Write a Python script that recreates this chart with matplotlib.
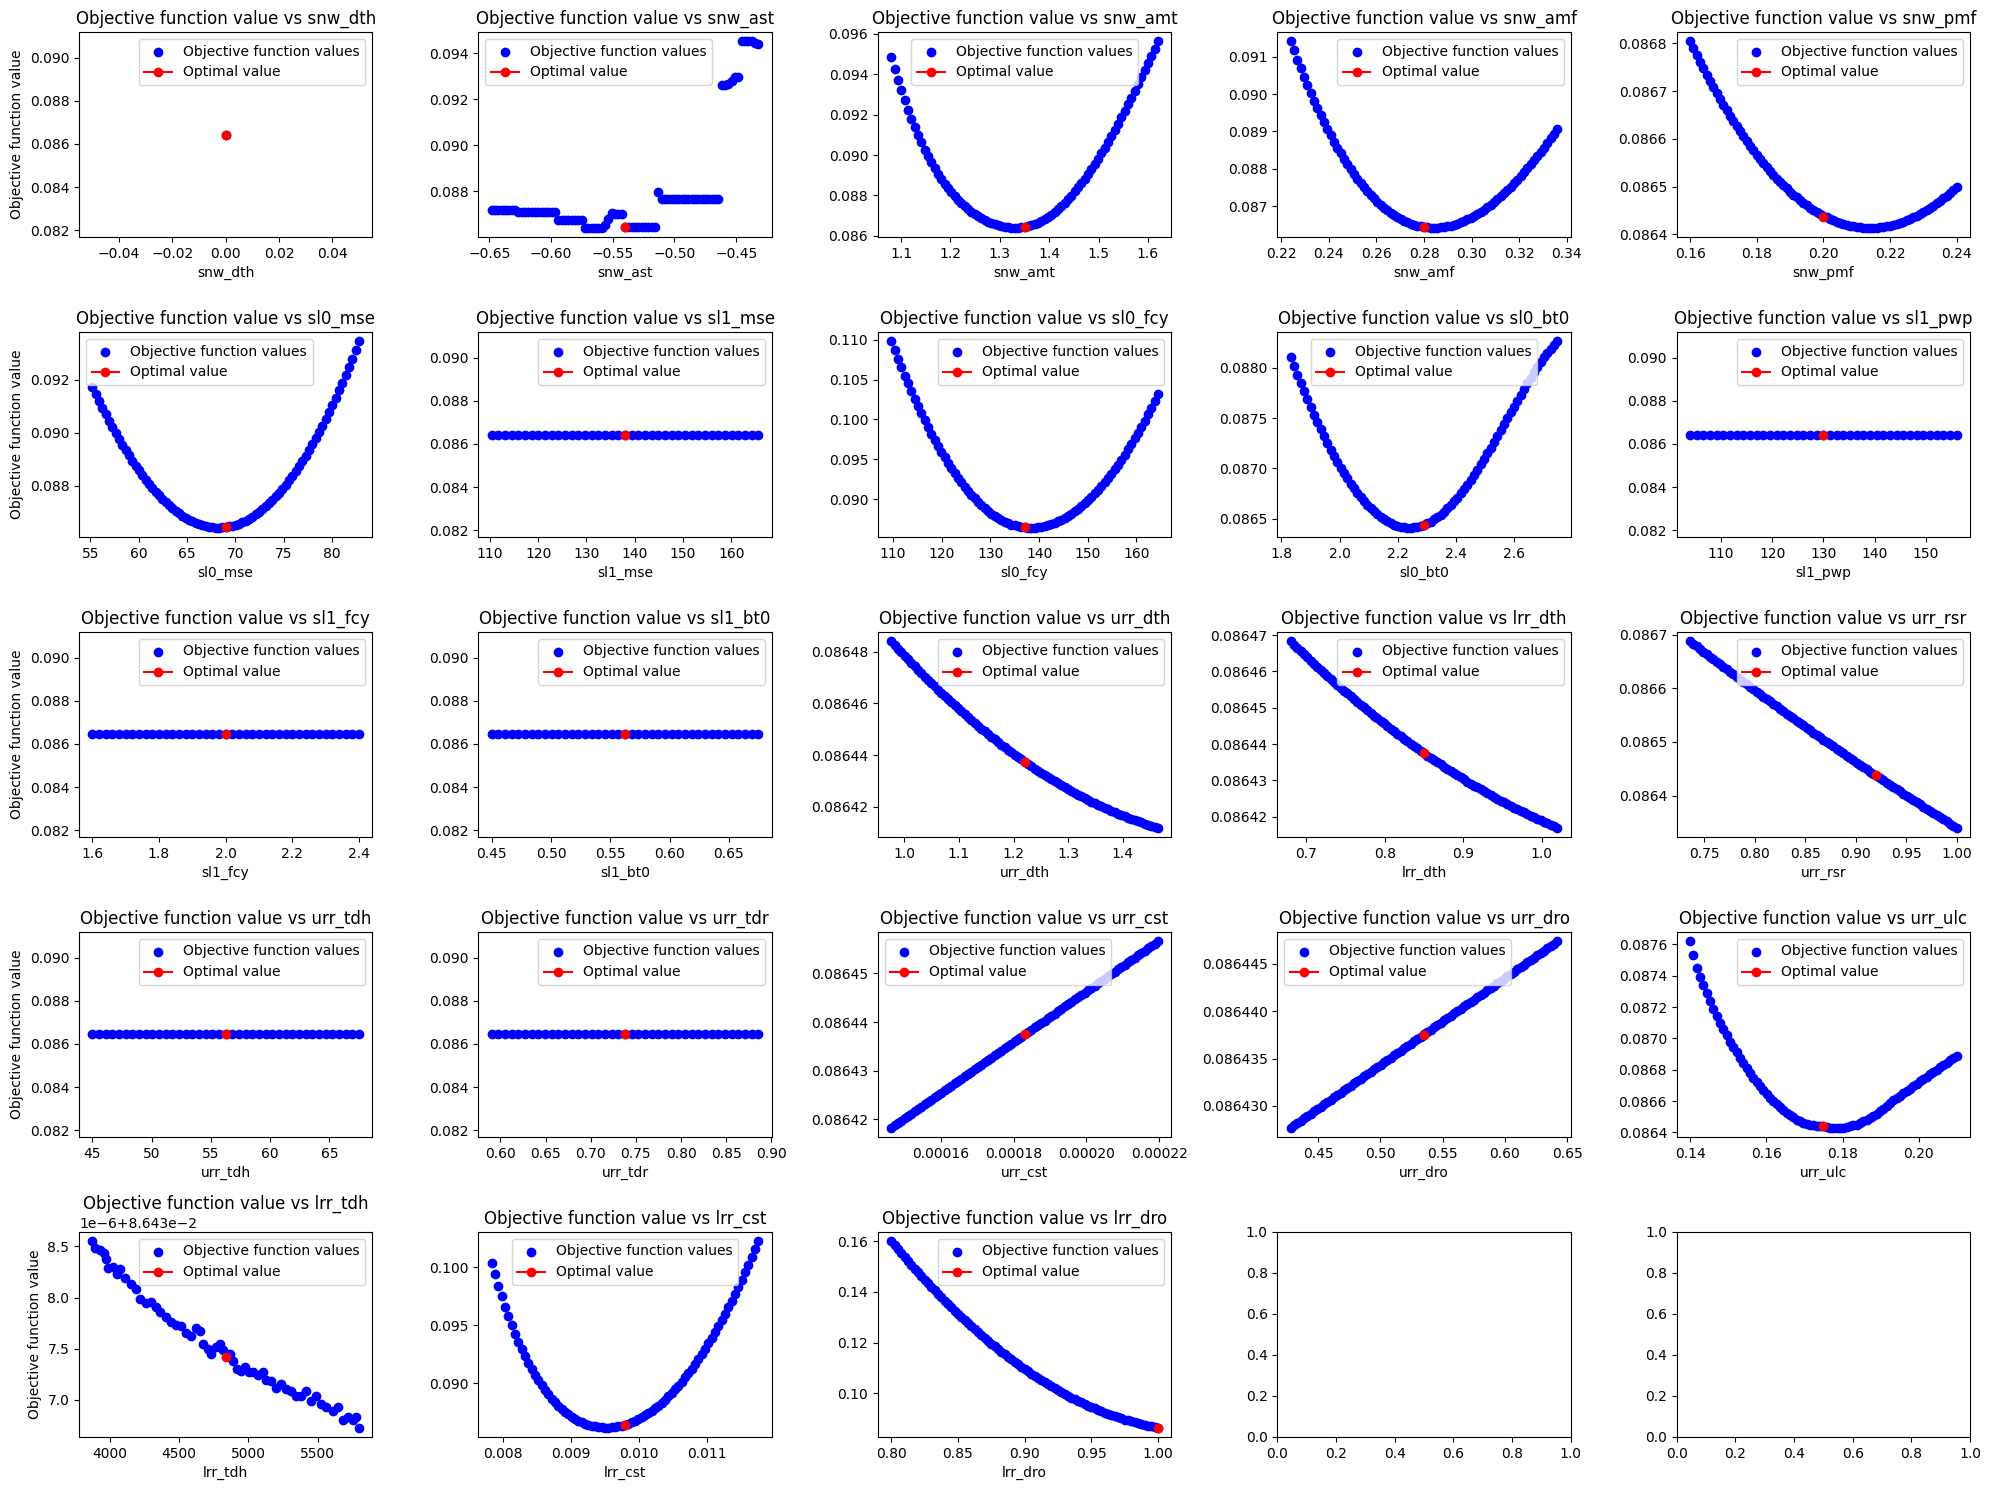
import matplotlib
matplotlib.use("Agg")
import matplotlib.pyplot as plt

OPT_VALUE = 0.0864375

# parameter sweeps, values
snw_dth_x = [0.0]
snw_dth_y = [0.0864375]

snw_ast_x = [-0.6480, -0.6453, -0.6426, -0.6399, -0.6372, -0.6345, -0.6318, -0.6291, -0.6264, -0.6237,
             -0.6210, -0.6183, -0.6156, -0.6129, -0.6102, -0.6075, -0.6048, -0.6021, -0.5994, -0.5967,
             -0.5940, -0.5913, -0.5886, -0.5859, -0.5832, -0.5805, -0.5778, -0.5751, -0.5724, -0.5697,
             -0.5670, -0.5643, -0.5616, -0.5589, -0.5562, -0.5535, -0.5508, -0.5481, -0.5454, -0.5427,
             -0.5400, -0.5373, -0.5346, -0.5319, -0.5292, -0.5265, -0.5238, -0.5211, -0.5184, -0.5157,
             -0.5130, -0.5103, -0.5076, -0.5049, -0.5022, -0.4995, -0.4968, -0.4941, -0.4914, -0.4887,
             -0.4860, -0.4833, -0.4806, -0.4779, -0.4752, -0.4725, -0.4698, -0.4671, -0.4644, -0.4617,
             -0.4590, -0.4563, -0.4536, -0.4509, -0.4482, -0.4455, -0.4428, -0.4401, -0.4374, -0.4347,
             -0.4320]
snw_ast_y = [0.08721, 0.08721, 0.08721, 0.08721, 0.08721, 0.08721, 0.08721, 0.08721, 0.08711, 0.08711,
             0.08711, 0.08711, 0.08711, 0.08711, 0.08711, 0.08711, 0.08711, 0.08711, 0.08711, 0.08711,
             0.08677, 0.08677, 0.08677, 0.08677, 0.08677, 0.08677, 0.08677, 0.08677, 0.08642, 0.08642,
             0.08642, 0.08642, 0.08642, 0.08642, 0.08655, 0.08680, 0.08706, 0.08701, 0.08701, 0.08701,
             0.0864375, 0.08645, 0.08645, 0.08645, 0.08645, 0.08645, 0.08645, 0.08645, 0.08645, 0.08645,
             0.08797, 0.08765, 0.08765, 0.08765, 0.08765, 0.08765, 0.08765, 0.08765, 0.08765, 0.08765,
             0.08765, 0.08765, 0.08765, 0.08765, 0.08765, 0.08765, 0.08765, 0.08765, 0.08765, 0.09263,
             0.09263, 0.09265, 0.09280, 0.09295, 0.09295, 0.09451, 0.09451, 0.09451, 0.09451, 0.09446,
             0.09441]

snw_amt_x = [1.08000, 1.08675, 1.09350, 1.10025, 1.10700, 1.11375, 1.12050, 1.12725, 1.13400, 1.14075,
             1.14750, 1.15425, 1.16100, 1.16775, 1.17450, 1.18125, 1.18800, 1.19475, 1.20150, 1.20825,
             1.21500, 1.22175, 1.22850, 1.23525, 1.24200, 1.24875, 1.25550, 1.26225, 1.26900, 1.27575,
             1.28250, 1.28925, 1.29600, 1.30275, 1.30950, 1.31625, 1.32300, 1.32975, 1.33650, 1.34325,
             1.35000, 1.35675, 1.36350, 1.37025, 1.37700, 1.38375, 1.39050, 1.39725, 1.40400, 1.41075,
             1.41750, 1.42425, 1.43100, 1.43775, 1.44450, 1.45125, 1.45800, 1.46475, 1.47150, 1.47825,
             1.48500, 1.49175, 1.49850, 1.50525, 1.51200, 1.51875, 1.52550, 1.53225, 1.53900, 1.54575,
             1.55250, 1.55925, 1.56600, 1.57275, 1.57950, 1.58625, 1.59300, 1.59975, 1.60650, 1.61325,
             1.62000]
snw_amt_y = [0.094834, 0.094272, 0.093709, 0.093204, 0.092698, 0.092246, 0.091793, 0.091390, 0.090986, 0.090627,
             0.090267, 0.089950, 0.089632, 0.089352, 0.089071, 0.088825, 0.088579, 0.088365, 0.088151, 0.087965,
             0.087779, 0.087620, 0.087460, 0.087325, 0.087189, 0.087077, 0.086964, 0.086872, 0.086779, 0.086706,
             0.086633, 0.086579, 0.086524, 0.086487, 0.086450, 0.086430, 0.086409, 0.086406, 0.086402, 0.086420,
             0.086438, 0.086480, 0.086522, 0.086588, 0.086653, 0.086743, 0.086832, 0.086944, 0.087056, 0.087191,
             0.087326, 0.087483, 0.087640, 0.087819, 0.087997, 0.088197, 0.088396, 0.088615, 0.088834, 0.089072,
             0.089310, 0.089566, 0.089822, 0.090095, 0.090368, 0.090657, 0.090945, 0.091249, 0.091552, 0.091868,
             0.092184, 0.092512, 0.092839, 0.093177, 0.093514, 0.093860, 0.094206, 0.094558, 0.094910, 0.095267,
             0.095624]

snw_amf_x = [0.2240, 0.2254, 0.2268, 0.2282, 0.2296, 0.2310, 0.2324, 0.2338, 0.2352, 0.2366,
             0.2380, 0.2394, 0.2408, 0.2422, 0.2436, 0.2450, 0.2464, 0.2478, 0.2492, 0.2506,
             0.2520, 0.2534, 0.2548, 0.2562, 0.2576, 0.2590, 0.2604, 0.2618, 0.2632, 0.2646,
             0.2660, 0.2674, 0.2688, 0.2702, 0.2716, 0.2730, 0.2744, 0.2758, 0.2772, 0.2786,
             0.2800, 0.2814, 0.2828, 0.2842, 0.2856, 0.2870, 0.2884, 0.2898, 0.2912, 0.2926,
             0.2940, 0.2954, 0.2968, 0.2982, 0.2996, 0.3010, 0.3024, 0.3038, 0.3052, 0.3066,
             0.3080, 0.3094, 0.3108, 0.3122, 0.3136, 0.3150, 0.3164, 0.3178, 0.3192, 0.3206,
             0.3220, 0.3234, 0.3248, 0.3262, 0.3276, 0.3290, 0.3304, 0.3318, 0.3332, 0.3346,
             0.3360]
snw_amf_y = [0.091412, 0.091168, 0.090924, 0.090694, 0.090464, 0.090247, 0.090030, 0.089828, 0.089625, 0.089436,
             0.089246, 0.089070, 0.088893, 0.088730, 0.088567, 0.088416, 0.088265, 0.088127, 0.087988, 0.087862,
             0.087736, 0.087622, 0.087507, 0.087404, 0.087301, 0.087210, 0.087118, 0.087038, 0.086958, 0.086889,
             0.086819, 0.086761, 0.086703, 0.086655, 0.086607, 0.086569, 0.086531, 0.086503, 0.086475, 0.086457,
             0.086439, 0.086431, 0.086422, 0.086423, 0.086423, 0.086433, 0.086442, 0.086461, 0.086479, 0.086506,
             0.086533, 0.086569, 0.086604, 0.086647, 0.086690, 0.086742, 0.086793, 0.086852, 0.086910, 0.086976,
             0.087042, 0.087116, 0.087189, 0.087269, 0.087348, 0.087435, 0.087522, 0.087615, 0.087708, 0.087807,
             0.087906, 0.088011, 0.088116, 0.088227, 0.088337, 0.088453, 0.088569, 0.088691, 0.088812, 0.088938,
             0.089064]

snw_pmf_x = [0.160, 0.161, 0.162, 0.163, 0.164, 0.165, 0.166, 0.167, 0.168, 0.169,
             0.170, 0.171, 0.172, 0.173, 0.174, 0.175, 0.176, 0.177, 0.178, 0.179,
             0.180, 0.181, 0.182, 0.183, 0.184, 0.185, 0.186, 0.187, 0.188, 0.189,
             0.190, 0.191, 0.192, 0.193, 0.194, 0.195, 0.196, 0.197, 0.198, 0.199,
             0.200, 0.201, 0.202, 0.203, 0.204, 0.205, 0.206, 0.207, 0.208, 0.209,
             0.210, 0.211, 0.212, 0.213, 0.214, 0.215, 0.216, 0.217, 0.218, 0.219,
             0.220, 0.221, 0.222, 0.223, 0.224, 0.225, 0.226, 0.227, 0.228, 0.229,
             0.230, 0.231, 0.232, 0.233, 0.234, 0.235, 0.236, 0.237, 0.238, 0.239,
             0.240]
snw_pmf_y = [0.0868043, 0.0867899, 0.0867755, 0.0867617, 0.0867478, 0.0867345, 0.0867212, 0.0867085, 0.0866957, 0.0866836,
             0.0866714, 0.0866598, 0.0866482, 0.0866372, 0.0866262, 0.0866157, 0.0866052, 0.0865953, 0.0865854, 0.0865761,
             0.0865667, 0.0865579, 0.0865490, 0.0865408, 0.0865325, 0.0865248, 0.0865171, 0.0865100, 0.0865028, 0.0864962,
             0.0864895, 0.0864835, 0.0864774, 0.0864719, 0.0864663, 0.0864613, 0.0864563, 0.0864519, 0.0864474, 0.0864435,
             0.0864395, 0.0864361, 0.0864327, 0.0864299, 0.0864270, 0.0864247, 0.0864223, 0.0864205, 0.0864187, 0.0864174,
             0.0864161, 0.0864153, 0.0864145, 0.0864143, 0.0864140, 0.0864143, 0.0864145, 0.0864153, 0.0864161, 0.0864174,
             0.0864186, 0.0864204, 0.0864222, 0.0864245, 0.0864268, 0.0864296, 0.0864324, 0.0864357, 0.0864390, 0.0864429,
             0.0864467, 0.0864510, 0.0864553, 0.0864601, 0.0864649, 0.0864702, 0.0864755, 0.0864813, 0.0864871, 0.0864934,
             0.0864996]

sl0_mse_x = [55.200, 55.545, 55.890, 56.235, 56.580, 56.925, 57.270, 57.615, 57.960, 58.305,
             58.650, 58.995, 59.340, 59.685, 60.030, 60.375, 60.720, 61.065, 61.410, 61.755,
             62.100, 62.445, 62.790, 63.135, 63.480, 63.825, 64.170, 64.515, 64.860, 65.205,
             65.550, 65.895, 66.240, 66.585, 66.930, 67.275, 67.620, 67.965, 68.310, 68.655,
             69.000, 69.345, 69.690, 70.035, 70.380, 70.725, 71.070, 71.415, 71.760, 72.105,
             72.450, 72.795, 73.140, 73.485, 73.830, 74.175, 74.520, 74.865, 75.210, 75.555,
             75.900, 76.245, 76.590, 76.935, 77.280, 77.625, 77.970, 78.315, 78.660, 79.005,
             79.350, 79.695, 80.040, 80.385, 80.730, 81.075, 81.420, 81.765, 82.110, 82.455,
             82.800]
sl0_mse_y = [0.091727, 0.091463, 0.091199, 0.090948, 0.090697, 0.090459, 0.090221, 0.089996, 0.089770, 0.089559,
             0.089347, 0.089149, 0.088950, 0.088766, 0.088581, 0.088410, 0.088238, 0.088082, 0.087925, 0.087783,
             0.087640, 0.087512, 0.087383, 0.087270, 0.087156, 0.087058, 0.086959, 0.086876, 0.086792, 0.086724,
             0.086655, 0.086602, 0.086549, 0.086512, 0.086475, 0.086453, 0.086431, 0.086426, 0.086420, 0.086431,
             0.086441, 0.086467, 0.086493, 0.086535, 0.086577, 0.086635, 0.086692, 0.086765, 0.086838, 0.086927,
             0.087016, 0.087121, 0.087225, 0.087346, 0.087466, 0.087602, 0.087738, 0.087890, 0.088042, 0.088210,
             0.088377, 0.088560, 0.088743, 0.088942, 0.089141, 0.089356, 0.089570, 0.089801, 0.090031, 0.090277,
             0.090523, 0.090785, 0.091046, 0.091324, 0.091601, 0.091894, 0.092187, 0.092496, 0.092805, 0.093130,
             0.093454]

sl1_mse_x = [110.40, 111.78, 113.16, 114.54, 115.92, 117.30, 118.68, 120.06, 121.44, 122.82,
             124.20, 125.58, 126.96, 128.34, 129.72, 131.10, 132.48, 133.86, 135.24, 136.62,
             138.00, 139.38, 140.76, 142.14, 143.52, 144.90, 146.28, 147.66, 149.04, 150.42,
             151.80, 153.18, 154.56, 155.94, 157.32, 158.70, 160.08, 161.46, 162.84, 164.22,
             165.60]
sl1_mse_y = [0.0864375] * 41

sl0_fcy_x = [109.600, 110.285, 110.970, 111.655, 112.340, 113.025, 113.710, 114.395, 115.080, 115.765,
             116.450, 117.135, 117.820, 118.505, 119.190, 119.875, 120.560, 121.245, 121.930, 122.615,
             123.300, 123.985, 124.670, 125.355, 126.040, 126.725, 127.410, 128.095, 128.780, 129.465,
             130.150, 130.835, 131.520, 132.205, 132.890, 133.575, 134.260, 134.945, 135.630, 136.315,
             137.000, 137.685, 138.370, 139.055, 139.740, 140.425, 141.110, 141.795, 142.480, 143.165,
             143.850, 144.535, 145.220, 145.905, 146.590, 147.275, 147.960, 148.645, 149.330, 150.015,
             150.700, 151.385, 152.070, 152.755, 153.440, 154.125, 154.810, 155.495, 156.180, 156.865,
             157.550, 158.235, 158.920, 159.605, 160.290, 160.975, 161.660, 162.345, 163.030, 163.715,
             164.400]
sl0_fcy_y = [0.109790, 0.108689, 0.107588, 0.106542, 0.105495, 0.104503, 0.103510, 0.102573, 0.101635, 0.100752,
             0.099868, 0.099039, 0.098210, 0.097436, 0.096661, 0.095941, 0.095220, 0.094555, 0.093889, 0.093278,
             0.092667, 0.092110, 0.091553, 0.091051, 0.090548, 0.090100, 0.089652, 0.089259, 0.088865, 0.088526,
             0.088187, 0.087903, 0.087618, 0.087388, 0.087157, 0.086982, 0.086806, 0.086685, 0.086563, 0.086501,
             0.086438, 0.086410, 0.086403, 0.086430, 0.086473, 0.086545, 0.086632, 0.086750, 0.086882, 0.087045,
             0.087221, 0.087430, 0.087651, 0.087905, 0.088171, 0.088470, 0.088781, 0.089125, 0.089481, 0.089870,
             0.090271, 0.090705, 0.091151, 0.091630, 0.092121, 0.092645, 0.093182, 0.093750, 0.094332, 0.094945,
             0.095573, 0.096230, 0.096904, 0.097605, 0.098324, 0.099070, 0.099835, 0.100625, 0.101436, 0.102270,
             0.103127]

sl0_bt0_x = [1.83200, 1.84345, 1.85490, 1.86635, 1.87780, 1.88925, 1.90070, 1.91215, 1.92360, 1.93505,
             1.94650, 1.95795, 1.96940, 1.98085, 1.99230, 2.00375, 2.01520, 2.02665, 2.03810, 2.04955,
             2.06100, 2.07245, 2.08390, 2.09535, 2.10680, 2.11825, 2.12970, 2.14115, 2.15260, 2.16405,
             2.17550, 2.18695, 2.19840, 2.20985, 2.22130, 2.23275, 2.24420, 2.25565, 2.26710, 2.27855,
             2.29000, 2.30145, 2.31290, 2.32435, 2.33580, 2.34725, 2.35870, 2.37015, 2.38160, 2.39305,
             2.40450, 2.41595, 2.42740, 2.43885, 2.45030, 2.46175, 2.47320, 2.48465, 2.49610, 2.50755,
             2.51900, 2.53045, 2.54190, 2.55335, 2.56480, 2.57625, 2.58770, 2.59915, 2.61060, 2.62205,
             2.63350, 2.64495, 2.65640, 2.66785, 2.67930, 2.69075, 2.70220, 2.71365, 2.72510, 2.73655,
             2.74800]
sl0_bt0_y = [0.0881053, 0.0880189, 0.0879325, 0.0878497, 0.0877668, 0.0876879, 0.0876089, 0.0875341, 0.0874593, 0.0873888,
             0.0873183, 0.0872523, 0.0871863, 0.0871250, 0.0870637, 0.0870073, 0.0869509, 0.0868996, 0.0868482, 0.0868019,
             0.0867556, 0.0867146, 0.0866736, 0.0866381, 0.0866025, 0.0865724, 0.0865423, 0.0865179, 0.0864935, 0.0864745,
             0.0864555, 0.0864422, 0.0864289, 0.0864214, 0.0864138, 0.0864120, 0.0864102, 0.0864143, 0.0864184, 0.0864286,
             0.0864388, 0.0864547, 0.0864706, 0.0864924, 0.0865141, 0.0865414, 0.0865687, 0.0866013, 0.0866339, 0.0866714,
             0.0867089, 0.0867511, 0.0867933, 0.0868396, 0.0868859, 0.0869359, 0.0869859, 0.0870391, 0.0870923, 0.0871486,
             0.0872048, 0.0872619, 0.0873190, 0.0873779, 0.0874368, 0.0874962, 0.0875556, 0.0876146, 0.0876736, 0.0877315,
             0.0877893, 0.0878450, 0.0879007, 0.0879533, 0.0880059, 0.0880543, 0.0881027, 0.0881460, 0.0881892, 0.0882261,
             0.0882629]

sl1_pwp_x = [104.0, 105.3, 106.6, 107.9, 109.2, 110.5, 111.8, 113.1, 114.4, 115.7,
             117.0, 118.3, 119.6, 120.9, 122.2, 123.5, 124.8, 126.1, 127.4, 128.7,
             130.0, 131.3, 132.6, 133.9, 135.2, 136.5, 137.8, 139.1, 140.4, 141.7,
             143.0, 144.3, 145.6, 146.9, 148.2, 149.5, 150.8, 152.1, 153.4, 154.7,
             156.0]
sl1_pwp_y = [0.0864375] * 41

sl1_fcy_x = [1.60, 1.62, 1.64, 1.66, 1.68, 1.70, 1.72, 1.74, 1.76, 1.78,
             1.80, 1.82, 1.84, 1.86, 1.88, 1.90, 1.92, 1.94, 1.96, 1.98,
             2.00, 2.02, 2.04, 2.06, 2.08, 2.10, 2.12, 2.14, 2.16, 2.18,
             2.20, 2.22, 2.24, 2.26, 2.28, 2.30, 2.32, 2.34, 2.36, 2.38,
             2.40]
sl1_fcy_y = [0.0864375] * 41

sl1_bt0_x = [0.450000, 0.455625, 0.461250, 0.466875, 0.472500, 0.478125, 0.483750, 0.489375, 0.495000, 0.500625,
             0.506250, 0.511875, 0.517500, 0.523125, 0.528750, 0.534375, 0.540000, 0.545625, 0.551250, 0.556875,
             0.562500, 0.568125, 0.573750, 0.579375, 0.585000, 0.590625, 0.596250, 0.601875, 0.607500, 0.613125,
             0.618750, 0.624375, 0.630000, 0.635625, 0.641250, 0.646875, 0.652500, 0.658125, 0.663750, 0.669375,
             0.675000]
sl1_bt0_y = [0.0864375] * 41

urr_dth_x = [0.9760, 0.9821, 0.9882, 0.9943, 1.0004, 1.0065, 1.0126, 1.0187, 1.0248, 1.0309,
             1.0370, 1.0431, 1.0492, 1.0553, 1.0614, 1.0675, 1.0736, 1.0797, 1.0858, 1.0919,
             1.0980, 1.1041, 1.1102, 1.1163, 1.1224, 1.1285, 1.1346, 1.1407, 1.1468, 1.1529,
             1.1590, 1.1651, 1.1712, 1.1773, 1.1834, 1.1895, 1.1956, 1.2017, 1.2078, 1.2139,
             1.2200, 1.2261, 1.2322, 1.2383, 1.2444, 1.2505, 1.2566, 1.2627, 1.2688, 1.2749,
             1.2810, 1.2871, 1.2932, 1.2993, 1.3054, 1.3115, 1.3176, 1.3237, 1.3298, 1.3359,
             1.3420, 1.3481, 1.3542, 1.3603, 1.3664, 1.3725, 1.3786, 1.3847, 1.3908, 1.3969,
             1.4030, 1.4091, 1.4152, 1.4213, 1.4274, 1.4335, 1.4396, 1.4457, 1.4518, 1.4579,
             1.4640]
urr_dth_y = [0.08648400, 0.08648260, 0.08648120, 0.08647980, 0.08647840, 0.08647705, 0.08647570, 0.08647435, 0.08647300, 0.08647170,
             0.08647040, 0.08646910, 0.08646780, 0.08646655, 0.08646530, 0.08646410, 0.08646290, 0.08646170, 0.08646050, 0.08645935,
             0.08645810, 0.08645695, 0.08645580, 0.08645470, 0.08645360, 0.08645250, 0.08645140, 0.08645030, 0.08644920, 0.08644820,
             0.08644720, 0.08644615, 0.08644510, 0.08644410, 0.08644310, 0.08644215, 0.08644120, 0.08644025, 0.08643930, 0.08643840,
             0.08643750, 0.08643660, 0.08643570, 0.08643485, 0.08643400, 0.08643315, 0.08643230, 0.08643150, 0.08643070, 0.08642995,
             0.08642920, 0.08642845, 0.08642770, 0.08642695, 0.08642620, 0.08642550, 0.08642480, 0.08642410, 0.08642340, 0.08642275,
             0.08642210, 0.08642150, 0.08642090, 0.08642030, 0.08641970, 0.08641910, 0.08641850, 0.08641795, 0.08641740, 0.08641690,
             0.08641640, 0.08641590, 0.08641540, 0.08641495, 0.08641450, 0.08641405, 0.08641360, 0.08641320, 0.08641280, 0.08641240,
             0.08641200]

lrr_dth_x = [0.68000, 0.68425, 0.68850, 0.69275, 0.69700, 0.70125, 0.70550, 0.70975, 0.71400, 0.71825,
             0.72250, 0.72675, 0.73100, 0.73525, 0.73950, 0.74375, 0.74800, 0.75225, 0.75650, 0.76075,
             0.76500, 0.76925, 0.77350, 0.77775, 0.78200, 0.78625, 0.79050, 0.79475, 0.79900, 0.80325,
             0.80750, 0.81175, 0.81600, 0.82025, 0.82450, 0.82875, 0.83300, 0.83725, 0.84150, 0.84575,
             0.85000, 0.85425, 0.85850, 0.86275, 0.86700, 0.87125, 0.87550, 0.87975, 0.88400, 0.88825,
             0.89250, 0.89675, 0.90100, 0.90525, 0.90950, 0.91375, 0.91800, 0.92225, 0.92650, 0.93075,
             0.93500, 0.93925, 0.94350, 0.94775, 0.95200, 0.95625, 0.96050, 0.96475, 0.96900, 0.97325,
             0.97750, 0.98175, 0.98600, 0.99025, 0.99450, 0.99875, 1.00300, 1.00725, 1.01150, 1.01575,
             1.02000]
lrr_dth_y = [0.08646830, 0.08646740, 0.08646650, 0.08646565, 0.08646480, 0.08646390, 0.08646300, 0.08646215, 0.08646130, 0.08646045,
             0.08645960, 0.08645880, 0.08645800, 0.08645715, 0.08645630, 0.08645550, 0.08645470, 0.08645395, 0.08645320, 0.08645240,
             0.08645160, 0.08645085, 0.08645010, 0.08644935, 0.08644860, 0.08644785, 0.08644710, 0.08644640, 0.08644570, 0.08644495,
             0.08644420, 0.08644350, 0.08644280, 0.08644215, 0.08644150, 0.08644080, 0.08644010, 0.08643945, 0.08643880, 0.08643815,
             0.08643750, 0.08643685, 0.08643620, 0.08643560, 0.08643500, 0.08643440, 0.08643380, 0.08643320, 0.08643260, 0.08643200,
             0.08643140, 0.08643085, 0.08643030, 0.08642970, 0.08642910, 0.08642860, 0.08642810, 0.08642755, 0.08642700, 0.08642650,
             0.08642600, 0.08642545, 0.08642490, 0.08642445, 0.08642400, 0.08642350, 0.08642300, 0.08642255, 0.08642210, 0.08642165,
             0.08642120, 0.08642075, 0.08642030, 0.08641985, 0.08641940, 0.08641900, 0.08641860, 0.08641820, 0.08641780, 0.08641740,
             0.08641700]

urr_rsr_x = [0.7360, 0.7393, 0.7426, 0.7459, 0.7492, 0.7525, 0.7558, 0.7591, 0.7624, 0.7657,
             0.7690, 0.7723, 0.7756, 0.7789, 0.7822, 0.7855, 0.7888, 0.7921, 0.7954, 0.7987,
             0.8020, 0.8053, 0.8086, 0.8119, 0.8152, 0.8185, 0.8218, 0.8251, 0.8284, 0.8317,
             0.8350, 0.8383, 0.8416, 0.8449, 0.8482, 0.8515, 0.8548, 0.8581, 0.8614, 0.8647,
             0.8680, 0.8713, 0.8746, 0.8779, 0.8812, 0.8845, 0.8878, 0.8911, 0.8944, 0.8977,
             0.9010, 0.9043, 0.9076, 0.9109, 0.9142, 0.9175, 0.9208, 0.9241, 0.9274, 0.9307,
             0.9340, 0.9373, 0.9406, 0.9439, 0.9472, 0.9505, 0.9538, 0.9571, 0.9604, 0.9637,
             0.9670, 0.9703, 0.9736, 0.9769, 0.9802, 0.9835, 0.9868, 0.9901, 0.9934, 0.9967,
             1.0000]
urr_rsr_y = [0.08668800, 0.08668320, 0.08667840, 0.08667360, 0.08666880, 0.08666405, 0.08665930, 0.08665455, 0.08664980, 0.08664510,
             0.08664040, 0.08663570, 0.08663100, 0.08662635, 0.08662170, 0.08661705, 0.08661240, 0.08660775, 0.08660310, 0.08659850,
             0.08659390, 0.08658935, 0.08658480, 0.08658025, 0.08657570, 0.08657115, 0.08656660, 0.08656210, 0.08655760, 0.08655315,
             0.08654870, 0.08654425, 0.08653980, 0.08653535, 0.08653090, 0.08652650, 0.08652210, 0.08651770, 0.08651330, 0.08650895,
             0.08650460, 0.08650025, 0.08649590, 0.08649160, 0.08648730, 0.08648300, 0.08647870, 0.08647445, 0.08647020, 0.08646595,
             0.08646170, 0.08645745, 0.08645320, 0.08644900, 0.08644480, 0.08644065, 0.08643650, 0.08643235, 0.08642820, 0.08642405,
             0.08641990, 0.08641580, 0.08641170, 0.08640765, 0.08640360, 0.08639955, 0.08639550, 0.08639145, 0.08638740, 0.08638340,
             0.08637940, 0.08637540, 0.08637140, 0.08636745, 0.08636350, 0.08635955, 0.08635560, 0.08635170, 0.08634780, 0.08634390,
             0.08634000]

urr_tdh_x = [45.0000, 45.5625, 46.1250, 46.6875, 47.2500, 47.8125, 48.3750, 48.9375, 49.5000, 50.0625,
             50.6250, 51.1875, 51.7500, 52.3125, 52.8750, 53.4375, 54.0000, 54.5625, 55.1250, 55.6875,
             56.2500, 56.8125, 57.3750, 57.9375, 58.5000, 59.0625, 59.6250, 60.1875, 60.7500, 61.3125,
             61.8750, 62.4375, 63.0000, 63.5625, 64.1250, 64.6875, 65.2500, 65.8125, 66.3750, 66.9375,
             67.5000]
urr_tdh_y = [0.0864375] * 41

urr_tdr_x = [0.59040, 0.59778, 0.60516, 0.61254, 0.61992, 0.62730, 0.63468, 0.64206, 0.64944, 0.65682,
             0.66420, 0.67158, 0.67896, 0.68634, 0.69372, 0.70110, 0.70848, 0.71586, 0.72324, 0.73062,
             0.73800, 0.74538, 0.75276, 0.76014, 0.76752, 0.77490, 0.78228, 0.78966, 0.79704, 0.80442,
             0.81180, 0.81918, 0.82656, 0.83394, 0.84132, 0.84870, 0.85608, 0.86346, 0.87084, 0.87822,
             0.88560]
urr_tdr_y = [0.0864375] * 41

urr_cst_x = [0.00014640, 0.00014732, 0.00014823, 0.00014915, 0.00015006, 0.00015098, 0.00015189, 0.00015281, 0.00015372, 0.00015464,
             0.00015555, 0.00015647, 0.00015738, 0.00015830, 0.00015921, 0.00016013, 0.00016104, 0.00016196, 0.00016287, 0.00016379,
             0.00016470, 0.00016562, 0.00016653, 0.00016745, 0.00016836, 0.00016928, 0.00017019, 0.00017111, 0.00017202, 0.00017294,
             0.00017385, 0.00017477, 0.00017568, 0.00017660, 0.00017751, 0.00017843, 0.00017934, 0.00018026, 0.00018117, 0.00018209,
             0.00018300, 0.00018392, 0.00018483, 0.00018575, 0.00018666, 0.00018758, 0.00018849, 0.00018941, 0.00019032, 0.00019124,
             0.00019215, 0.00019307, 0.00019398, 0.00019490, 0.00019581, 0.00019673, 0.00019764, 0.00019856, 0.00019947, 0.00020039,
             0.00020130, 0.00020222, 0.00020313, 0.00020405, 0.00020496, 0.00020588, 0.00020679, 0.00020771, 0.00020862, 0.00020954,
             0.00021045, 0.00021137, 0.00021228, 0.00021320, 0.00021411, 0.00021503, 0.00021594, 0.00021686, 0.00021777, 0.00021869,
             0.00021960]
urr_cst_y = [0.08641830, 0.08641878, 0.08641926, 0.08641974, 0.08642022, 0.08642070, 0.08642117, 0.08642165, 0.08642213, 0.08642261,
             0.08642309, 0.08642357, 0.08642405, 0.08642453, 0.08642501, 0.08642549, 0.08642596, 0.08642644, 0.08642692, 0.08642740,
             0.08642788, 0.08642836, 0.08642884, 0.08642932, 0.08642980, 0.08643028, 0.08643075, 0.08643123, 0.08643171, 0.08643219,
             0.08643267, 0.08643315, 0.08643363, 0.08643411, 0.08643459, 0.08643507, 0.08643554, 0.08643602, 0.08643650, 0.08643698,
             0.08643746, 0.08643794, 0.08643842, 0.08643890, 0.08643938, 0.08643986, 0.08644033, 0.08644081, 0.08644129, 0.08644177,
             0.08644225, 0.08644273, 0.08644321, 0.08644369, 0.08644417, 0.08644465, 0.08644512, 0.08644560, 0.08644608, 0.08644656,
             0.08644704, 0.08644752, 0.08644800, 0.08644848, 0.08644896, 0.08644944, 0.08644991, 0.08645039, 0.08645087, 0.08645135,
             0.08645183, 0.08645231, 0.08645279, 0.08645327, 0.08645375, 0.08645423, 0.08645470, 0.08645518, 0.08645566, 0.08645614,
             0.08645662]

urr_dro_x = [0.428000, 0.430675, 0.433350, 0.436025, 0.438700, 0.441375, 0.444050, 0.446725, 0.449400, 0.452075,
             0.454750, 0.457425, 0.460100, 0.462775, 0.465450, 0.468125, 0.470800, 0.473475, 0.476150, 0.478825,
             0.481500, 0.484175, 0.486850, 0.489525, 0.492200, 0.494875, 0.497550, 0.500225, 0.502900, 0.505575,
             0.508250, 0.510925, 0.513600, 0.516275, 0.518950, 0.521625, 0.524300, 0.526975, 0.529650, 0.532325,
             0.535000, 0.537675, 0.540350, 0.543025, 0.545700, 0.548375, 0.551050, 0.553725, 0.556400, 0.559075,
             0.561750, 0.564425, 0.567100, 0.569775, 0.572450, 0.575125, 0.577800, 0.580475, 0.583150, 0.585825,
             0.588500, 0.591175, 0.593850, 0.596525, 0.599200, 0.601875, 0.604550, 0.607225, 0.609900, 0.612575,
             0.615250, 0.617925, 0.620600, 0.623275, 0.625950, 0.628625, 0.631300, 0.633975, 0.636650, 0.639325,
             0.642000]
urr_dro_y = [0.08642770, 0.08642795, 0.08642819, 0.08642844, 0.08642869, 0.08642893, 0.08642918, 0.08642942, 0.08642967, 0.08642992,
             0.08643016, 0.08643041, 0.08643066, 0.08643090, 0.08643115, 0.08643139, 0.08643164, 0.08643189, 0.08643213, 0.08643238,
             0.08643263, 0.08643287, 0.08643312, 0.08643336, 0.08643361, 0.08643386, 0.08643410, 0.08643435, 0.08643460, 0.08643484,
             0.08643509, 0.08643533, 0.08643558, 0.08643583, 0.08643607, 0.08643632, 0.08643657, 0.08643681, 0.08643706, 0.08643730,
             0.08643755, 0.08643780, 0.08643804, 0.08643829, 0.08643854, 0.08643878, 0.08643903, 0.08643927, 0.08643952, 0.08643977,
             0.08644001, 0.08644026, 0.08644051, 0.08644075, 0.08644100, 0.08644124, 0.08644149, 0.08644174, 0.08644198, 0.08644223,
             0.08644248, 0.08644272, 0.08644297, 0.08644321, 0.08644346, 0.08644371, 0.08644395, 0.08644420, 0.08644445, 0.08644469,
             0.08644494, 0.08644518, 0.08644543, 0.08644568, 0.08644592, 0.08644617, 0.08644642, 0.08644666, 0.08644691, 0.08644715,
             0.08644740]

urr_ulc_x = [0.140000, 0.140875, 0.141750, 0.142625, 0.143500, 0.144375, 0.145250, 0.146125, 0.147000, 0.147875,
             0.148750, 0.149625, 0.150500, 0.151375, 0.152250, 0.153125, 0.154000, 0.154875, 0.155750, 0.156625,
             0.157500, 0.158375, 0.159250, 0.160125, 0.161000, 0.161875, 0.162750, 0.163625, 0.164500, 0.165375,
             0.166250, 0.167125, 0.168000, 0.168875, 0.169750, 0.170625, 0.171500, 0.172375, 0.173250, 0.174125,
             0.175000, 0.175875, 0.176750, 0.177625, 0.178500, 0.179375, 0.180250, 0.181125, 0.182000, 0.182875,
             0.183750, 0.184625, 0.185500, 0.186375, 0.187250, 0.188125, 0.189000, 0.189875, 0.190750, 0.191625,
             0.192500, 0.193375, 0.194250, 0.195125, 0.196000, 0.196875, 0.197750, 0.198625, 0.199500, 0.200375,
             0.201250, 0.202125, 0.203000, 0.203875, 0.204750, 0.205625, 0.206500, 0.207375, 0.208250, 0.209125,
             0.210000]
urr_ulc_y = [0.087620, 0.087530, 0.087450, 0.087393, 0.087340, 0.087290, 0.087240, 0.087190, 0.087140, 0.087100,
             0.087060, 0.087020, 0.086980, 0.086945, 0.086910, 0.086875, 0.086840, 0.086810, 0.086780, 0.086750,
             0.086720, 0.086695, 0.086670, 0.086645, 0.086620, 0.086600, 0.086580, 0.086560, 0.086540, 0.086525,
             0.086510, 0.086495, 0.086480, 0.086470, 0.086460, 0.086455, 0.086450, 0.086445, 0.086440, 0.086439,
             0.086438, 0.086434, 0.086430, 0.086430, 0.086430, 0.086430, 0.086430, 0.086435, 0.086440, 0.086445,
             0.086450, 0.086460, 0.086470, 0.086480, 0.086490, 0.086505, 0.086520, 0.086535, 0.086550, 0.086570,
             0.086590, 0.086605, 0.086620, 0.086635, 0.086650, 0.086665, 0.086680, 0.086695, 0.086710, 0.086725,
             0.086740, 0.086755, 0.086770, 0.086785, 0.086800, 0.086815, 0.086830, 0.086845, 0.086860, 0.086875,
             0.086890]

# lrr_tdh is noisy
lrr_tdh_x = [3875, 3892, 3928, 3957, 3976, 3988, 4024, 4053, 4072, 4108,
             4156, 4192, 4216, 4264, 4300, 4336, 4360, 4408, 4444, 4480,
             4517, 4553, 4589, 4625, 4649, 4673, 4709, 4733, 4769, 4793,
             4817, 4865, 4889, 4918, 4949, 4973, 5004, 5033, 5069, 5105,
             5129, 5165, 5201, 5237, 5273, 5309, 5345, 5381, 5417, 5453,
             5489, 5525, 5561, 5609, 5645, 5681, 5717, 5753, 5777, 5796]
lrr_tdh_y = [0.08643855, 0.08643848, 0.08643846, 0.08643844, 0.08643838, 0.08643829, 0.08643830, 0.08643823, 0.08643828, 0.08643819,
             0.08643813, 0.08643808, 0.08643799, 0.08643795, 0.08643796, 0.08643791, 0.08643786, 0.08643781, 0.08643776, 0.08643773,
             0.08643772, 0.08643765, 0.08643762, 0.08643770, 0.08643767, 0.08643755, 0.08643750, 0.08643745, 0.08643752, 0.08643755,
             0.08643749, 0.08643745, 0.08643738, 0.08643730, 0.08643728, 0.08643732, 0.08643727, 0.08643727, 0.08643724, 0.08643727,
             0.08643720, 0.08643719, 0.08643712, 0.08643716, 0.08643711, 0.08643709, 0.08643704, 0.08643704, 0.08643709, 0.08643699,
             0.08643704, 0.08643696, 0.08643693, 0.08643689, 0.08643693, 0.08643680, 0.08643683, 0.08643680, 0.08643683, 0.08643673]

lrr_cst_x = [0.007840, 0.007889, 0.007938, 0.007987, 0.008036, 0.008085, 0.008134, 0.008183, 0.008232, 0.008281,
             0.008330, 0.008379, 0.008428, 0.008477, 0.008526, 0.008575, 0.008624, 0.008673, 0.008722, 0.008771,
             0.008820, 0.008869, 0.008918, 0.008967, 0.009016, 0.009065, 0.009114, 0.009163, 0.009212, 0.009261,
             0.009310, 0.009359, 0.009408, 0.009457, 0.009506, 0.009555, 0.009604, 0.009653, 0.009702, 0.009751,
             0.009800, 0.009849, 0.009898, 0.009947, 0.009996, 0.010045, 0.010094, 0.010143, 0.010192, 0.010241,
             0.010290, 0.010339, 0.010388, 0.010437, 0.010486, 0.010535, 0.010584, 0.010633, 0.010682, 0.010731,
             0.010780, 0.010829, 0.010878, 0.010927, 0.010976, 0.011025, 0.011074, 0.011123, 0.011172, 0.011221,
             0.011270, 0.011319, 0.011368, 0.011417, 0.011466, 0.011515, 0.011564, 0.011613, 0.011662, 0.011711,
             0.011760]
lrr_cst_y = [0.100393, 0.099389, 0.098384, 0.097487, 0.096590, 0.095791, 0.094991, 0.094282, 0.093573, 0.092947,
             0.092321, 0.091770, 0.091219, 0.090738, 0.090256, 0.089838, 0.089419, 0.089059, 0.088699, 0.088392,
             0.088084, 0.087826, 0.087568, 0.087355, 0.087142, 0.086972, 0.086801, 0.086670, 0.086538, 0.086445,
             0.086351, 0.086293, 0.086235, 0.086213, 0.086191, 0.086197, 0.086213, 0.086250, 0.086296, 0.086364,
             0.086441, 0.086540, 0.086647, 0.086777, 0.086915, 0.087075, 0.087244, 0.087435, 0.087635, 0.087857,
             0.088087, 0.088340, 0.088601, 0.088885, 0.089176, 0.089490, 0.089813, 0.090158, 0.090511, 0.090886,
             0.091270, 0.091676, 0.092091, 0.092528, 0.092974, 0.093442, 0.093918, 0.094416, 0.094923, 0.095452,
             0.095990, 0.096550, 0.097118, 0.097709, 0.098308, 0.098929, 0.099559, 0.100211, 0.100872, 0.101555,
             0.102246]

lrr_dro_x = [0.8000, 0.8025, 0.8050, 0.8075, 0.8100, 0.8125, 0.8150, 0.8175, 0.8200, 0.8225,
             0.8250, 0.8275, 0.8300, 0.8325, 0.8350, 0.8375, 0.8400, 0.8425, 0.8450, 0.8475,
             0.8500, 0.8525, 0.8550, 0.8575, 0.8600, 0.8625, 0.8650, 0.8675, 0.8700, 0.8725,
             0.8750, 0.8775, 0.8800, 0.8825, 0.8850, 0.8875, 0.8900, 0.8925, 0.8950, 0.8975,
             0.9000, 0.9025, 0.9050, 0.9075, 0.9100, 0.9125, 0.9150, 0.9175, 0.9200, 0.9225,
             0.9250, 0.9275, 0.9300, 0.9325, 0.9350, 0.9375, 0.9400, 0.9425, 0.9450, 0.9475,
             0.9500, 0.9525, 0.9550, 0.9575, 0.9600, 0.9625, 0.9650, 0.9675, 0.9700, 0.9725,
             0.9750, 0.9775, 0.9800, 0.9825, 0.9850, 0.9875, 0.9900, 0.9925, 0.9950, 0.9975,
             1.0000]
lrr_dro_y = [0.160000, 0.158412, 0.156825, 0.155272, 0.153718, 0.152199, 0.150680, 0.149195, 0.147710, 0.146260,
             0.144810, 0.143394, 0.141977, 0.140595, 0.139213, 0.137865, 0.136517, 0.135204, 0.133890, 0.132611,
             0.131332, 0.130087, 0.128842, 0.127632, 0.126421, 0.125245, 0.124068, 0.122926, 0.121783, 0.120676,
             0.119568, 0.118494, 0.117420, 0.116381, 0.115342, 0.114337, 0.113332, 0.112362, 0.111391, 0.110454,
             0.109517, 0.108615, 0.107713, 0.106845, 0.105976, 0.105143, 0.104309, 0.103510, 0.102710, 0.101945,
             0.101180, 0.100449, 0.099718, 0.099022, 0.098325, 0.097663, 0.097000, 0.096372, 0.095744, 0.095150,
             0.094556, 0.093997, 0.093437, 0.092912, 0.092386, 0.091895, 0.091404, 0.090947, 0.090490, 0.090068,
             0.089646, 0.089258, 0.088869, 0.088515, 0.088161, 0.087841, 0.087521, 0.087236, 0.086951, 0.086695,
             0.086438]

param_names = ["snw_dth", "snw_ast", "snw_amt", "snw_amf", "snw_pmf",
               "sl0_mse", "sl1_mse", "sl0_fcy", "sl0_bt0", "sl1_pwp",
               "sl1_fcy", "sl1_bt0", "urr_dth", "lrr_dth", "urr_rsr",
               "urr_tdh", "urr_tdr", "urr_cst", "urr_dro", "urr_ulc",
               "lrr_tdh", "lrr_cst", "lrr_dro"]
optimal_params = [0.0, -0.54, 1.35, 0.28, 0.20,
                  69.0, 138.0, 137.0, 2.29, 130.0,
                  2.0, 0.5625, 1.22, 0.85, 0.92,
                  56.25, 0.738, 0.000183, 0.535, 0.175,
                  4840.0, 0.0098, 1.0]
optimal_values = [OPT_VALUE] * 20 + [0.08643742, OPT_VALUE, OPT_VALUE]

# where the legend sits in each panel of the reference
legend_locs = ["upper right", "upper left", "upper center", "upper right", "upper right",
               "upper left", "upper right", "upper right", "upper center", "upper right",
               "upper right", "upper right", "upper right", "upper right", "upper right",
               "upper right", "upper right", "upper left", "upper left", "upper right",
               "upper right", "upper center", "upper right"]

series = {
    "snw_dth": (snw_dth_x, snw_dth_y),
    "snw_ast": (snw_ast_x, snw_ast_y),
    "snw_amt": (snw_amt_x, snw_amt_y),
    "snw_amf": (snw_amf_x, snw_amf_y),
    "snw_pmf": (snw_pmf_x, snw_pmf_y),
    "sl0_mse": (sl0_mse_x, sl0_mse_y),
    "sl1_mse": (sl1_mse_x, sl1_mse_y),
    "sl0_fcy": (sl0_fcy_x, sl0_fcy_y),
    "sl0_bt0": (sl0_bt0_x, sl0_bt0_y),
    "sl1_pwp": (sl1_pwp_x, sl1_pwp_y),
    "sl1_fcy": (sl1_fcy_x, sl1_fcy_y),
    "sl1_bt0": (sl1_bt0_x, sl1_bt0_y),
    "urr_dth": (urr_dth_x, urr_dth_y),
    "lrr_dth": (lrr_dth_x, lrr_dth_y),
    "urr_rsr": (urr_rsr_x, urr_rsr_y),
    "urr_tdh": (urr_tdh_x, urr_tdh_y),
    "urr_tdr": (urr_tdr_x, urr_tdr_y),
    "urr_cst": (urr_cst_x, urr_cst_y),
    "urr_dro": (urr_dro_x, urr_dro_y),
    "urr_ulc": (urr_ulc_x, urr_ulc_y),
    "lrr_tdh": (lrr_tdh_x, lrr_tdh_y),
    "lrr_cst": (lrr_cst_x, lrr_cst_y),
    "lrr_dro": (lrr_dro_x, lrr_dro_y),
}


def plot_sensitivity(save_path: str = "out.png") -> plt.Figure:
    """One panel per parameter: objective value over the sweep plus the optimum."""
    fig, axes = plt.subplots(5, 5, figsize=(19.9, 14.9))
    # grid spacing matched to the reference layout
    fig.subplots_adjust(left=0.0397, right=0.9900, bottom=0.0356, top=0.9785,
                        wspace=0.362, hspace=0.463)
    axes = axes.flatten()

    for i, name in enumerate(param_names):
        ax = axes[i]
        x, y = series[name]
        ax.scatter(x, y, color="blue", label="Objective function values")
        ax.plot([optimal_params[i]], [optimal_values[i]], color="red", marker="o",
                label="Optimal value")
        ax.set_title(f"Objective function value vs {name}")
        ax.set_xlabel(name)
        if i % 5 == 0:
            ax.set_ylabel("Objective function value")
        ax.legend(loc=legend_locs[i])

    plt.savefig(save_path, dpi=100)
    plt.close()
    return fig


if __name__ == "__main__":
    plot_sensitivity()
